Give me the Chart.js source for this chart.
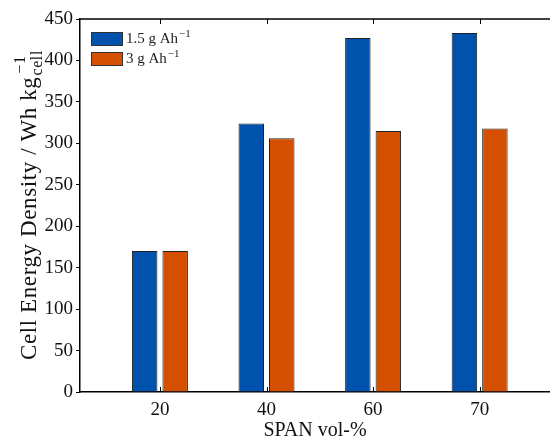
<!DOCTYPE html>
<html>
<head>
<meta charset="utf-8">
<script src="https://cdn.jsdelivr.net/npm/chart.js@4.4.1/dist/chart.umd.min.js"></script>
<style>
  html, body { margin: 0; padding: 0; background: #fff; overflow: hidden; }
  #wrap { width: 550px; height: 443px; }
</style>
</head>
<body>
<div id="wrap"><canvas id="energyChart"></canvas></div>
<script>
// SPAN content categories (x axis)
const spanLabels = ['20', '40', '60', '70'];
// Cell energy density, Wh/kg_cell
const lowLoading = [170, 324, 427, 433];   // 1.5 g/Ah
const highLoading = [170, 306, 315, 318];  // 3 g/Ah
const seriesNames = ['1.5 g Ah', '3 g Ah'];
const seriesColors = ['#0052ad', '#d44f00'];

const serif = "'Liberation Serif', 'Times New Roman', serif";

function toPoints(values) {
    return values.map((v, i) => ({ x: i + 1, y: v }));
}

// Draws y title with sub/superscript, the inside legend and inward x ticks
const decorPlugin = {
    id: 'decor',
    afterDatasetsDraw(chart) {
        const ctx = chart.ctx;
        const area = chart.chartArea;
        const xs = chart.scales.x;
        ctx.save();
        ctx.strokeStyle = '#000';
        ctx.lineWidth = 1.5;
        // top box line
        ctx.beginPath();
        ctx.moveTo(area.left, area.top);
        ctx.lineTo(area.right + 2, area.top);
        ctx.stroke();
        // inward ticks on top and bottom
        ctx.lineWidth = 1;
        spanLabels.forEach((_, i) => {
            const px = Math.round(xs.getPixelForValue(i + 1)) + 0.5;
            ctx.beginPath();
            ctx.moveTo(px, area.bottom);
            ctx.lineTo(px, area.bottom - 5);
            ctx.moveTo(px, area.top);
            ctx.lineTo(px, area.top + 5);
            ctx.stroke();
        });

        // legend
        ctx.textBaseline = 'middle';
        ctx.textAlign = 'left';
        seriesNames.forEach((name, i) => {
            const y = 32 + i * 20;
            ctx.fillStyle = seriesColors[i];
            ctx.fillRect(91, y, 32, 14);
            ctx.strokeStyle = '#333';
            ctx.lineWidth = 1;
            ctx.strokeRect(91.5, y + 0.5, 31, 13);
            ctx.fillStyle = '#222';
            ctx.font = '15px ' + serif;
            ctx.fillText(name, 126, y + 7);
            const w = ctx.measureText(name).width;
            ctx.font = '11px ' + serif;
            ctx.fillText('\u22121', 126 + w + 1, y + 2);
        });

        // y axis title
        const main = 'Cell Energy Density / Wh kg';
        ctx.letterSpacing = '0.6px';
        ctx.font = '23px ' + serif;
        const wMain = ctx.measureText(main).width;
        ctx.font = '16px ' + serif;
        const wSub = ctx.measureText('cell').width;
        const wSup = ctx.measureText('\u22121').width;
        const total = wMain + Math.max(wSub, wSup);
        const cy = (area.top + area.bottom) / 2;
        ctx.translate(36, cy + total / 2);
        ctx.rotate(-Math.PI / 2);
        ctx.textBaseline = 'alphabetic';
        ctx.fillStyle = '#111';
        ctx.font = '23px ' + serif;
        ctx.fillText(main, 0, 0);
        ctx.font = '16px ' + serif;
        ctx.fillText('cell', wMain + 1, 6);
        ctx.fillText('\u22121', wMain + 3, -11);
        ctx.restore();
    }
};

const chart = new Chart(document.getElementById('energyChart'), {
    type: 'bar',
    data: {
        datasets: [
            {
                label: seriesNames[0],
                data: toPoints(lowLoading),
                backgroundColor: seriesColors[0],
                borderColor: '#222',
                borderWidth: 1,
                borderSkipped: 'start'
            },
            {
                label: seriesNames[1],
                data: toPoints(highLoading),
                backgroundColor: seriesColors[1],
                borderColor: '#222',
                borderWidth: 1,
                borderSkipped: 'start'
            }
        ]
    },
    options: {
        responsive: true,
        maintainAspectRatio: false,
        animation: false,
        devicePixelRatio: 1,
        categoryPercentage: 0.572,
        barPercentage: 0.836,
        layout: { padding: { top: 19, right: 0, left: 0, bottom: 0 } },
        plugins: {
            legend: { display: false },
            tooltip: { enabled: false }
        },
        scales: {
            x: {
                type: 'linear',
                offset: false,
                min: 0.25,
                max: 4.66,
                afterBuildTicks: (s) => { s.ticks = spanLabels.map((_, i) => ({ value: i + 1 })); },
                afterFit: (s) => { s.height = 51; },
                grid: { display: false, drawTicks: false, offset: false },
                border: { display: true, color: '#000', width: 1.5 },
                ticks: {
                    callback: (v) => spanLabels[v - 1],
                    font: { family: serif, size: 19 },
                    color: '#111',
                    padding: 7,
                    maxRotation: 0
                },
                title: {
                    display: true,
                    text: 'SPAN vol-%',
                    font: { family: serif, size: 20 },
                    color: '#111',
                    padding: { top: 0, bottom: 0 }
                }
            },
            y: {
                min: 0,
                max: 450,
                afterFit: (s) => { s.width = 80; },
                grid: { drawOnChartArea: false, drawTicks: true, tickLength: 4, color: '#000' },
                border: { display: true, color: '#000', width: 1.5 },
                ticks: {
                    stepSize: 50,
                    font: { family: serif, size: 19 },
                    color: '#111',
                    padding: 3
                }
            }
        }
    },
    plugins: [decorPlugin]
});
</script>
</body>
</html>
